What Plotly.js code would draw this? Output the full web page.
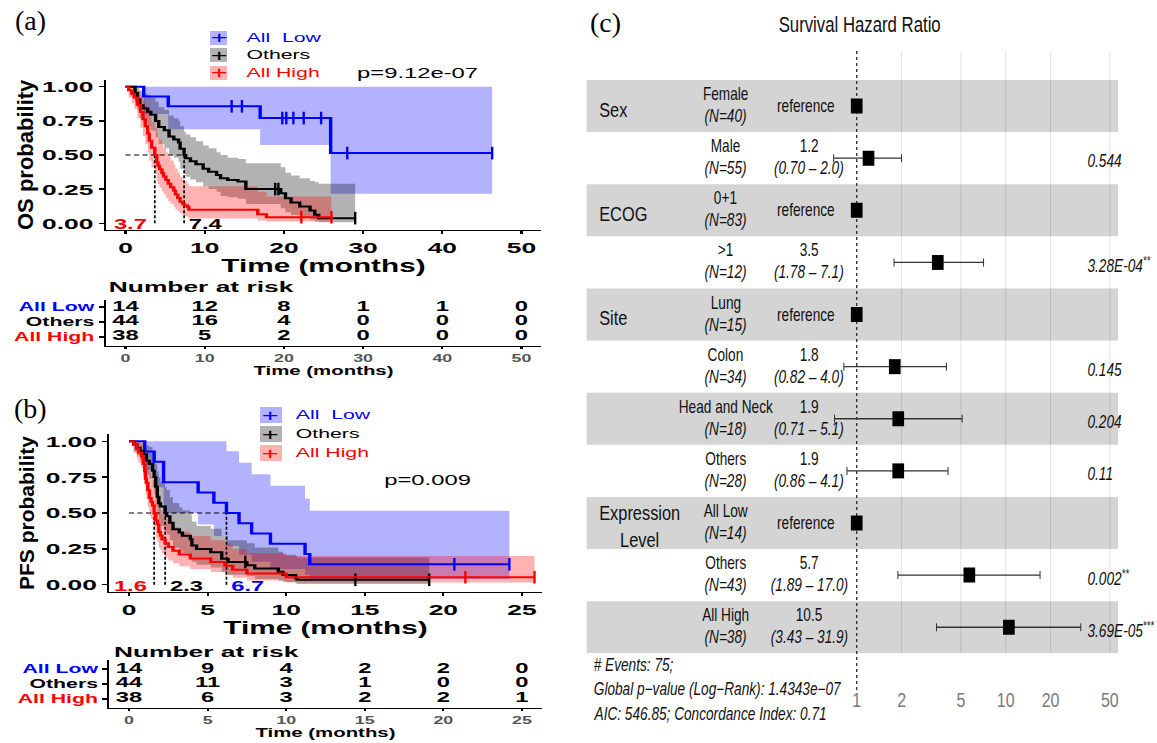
<!DOCTYPE html>
<html><head><meta charset="utf-8">
<script src="https://cdn.plot.ly/plotly-3.0.1.min.js"></script>
<style>
html,body{margin:0;padding:0;background:#fff;width:1157px;height:743px;overflow:hidden;position:relative;}
#km{position:absolute;left:0;top:0;width:340px;height:743px;transform:scaleX(1.7);transform-origin:0 0;}
#forest{position:absolute;left:575px;top:0;width:746px;height:743px;transform:scaleX(0.78);transform-origin:0 0;}
#ov{position:absolute;left:0;top:0;width:1157px;height:743px;pointer-events:none;}
</style></head><body>
<div id="km"></div><div id="forest"></div><div id="ov"></div>
<script>
// ================= DATA =================
const groupNames = ["All Low", "Others", "All High"];
const groupColors = ["#0000ff", "#000000", "#ff0000"];
const bandColors = ["rgba(0,0,255,0.3)", "rgba(0,0,0,0.3)", "rgba(255,0,0,0.3)"];

// ---- (a) OS Kaplan-Meier ----
const osLowT  = [0, 2.3, 5.4, 17.0, 25.9];
const osLowS  = [1, 0.929, 0.857, 0.771, 0.514];
const osLowUp = [1, 1, 1, 1, 1];
const osLowLo = [1, 0.80, 0.688, 0.573, 0.215];
const osLowEnd = 46.3;
const osLowCens = [13.4, 14.7, 19.8, 20.3, 21.2, 22.5, 24.7, 28.0, 46.3];

const osOthT  = [0, 1.2, 1.5, 1.8, 2.2, 2.8, 3.2, 3.8, 4.2, 4.9, 5.5, 6.1, 6.7, 6.9, 7.4, 7.6, 8.2, 8.9, 9.8, 10.5, 11.5, 12.0, 12.9, 14.2, 15.2, 19.6, 20.2, 20.9, 22.0, 23.3, 23.9, 24.4];
const osOthS  = [1, 0.955, 0.909, 0.864, 0.841, 0.818, 0.795, 0.75, 0.705, 0.682, 0.636, 0.614, 0.591, 0.545, 0.50, 0.477, 0.455, 0.432, 0.40, 0.378, 0.354, 0.33, 0.317, 0.305, 0.25, 0.22, 0.183, 0.151, 0.122, 0.093, 0.061, 0.037];
const osOthUp = [1, 1.0, 0.99, 0.97, 0.95, 0.94, 0.92, 0.89, 0.85, 0.83, 0.79, 0.77, 0.75, 0.71, 0.67, 0.65, 0.63, 0.60, 0.57, 0.55, 0.52, 0.50, 0.48, 0.47, 0.44, 0.41, 0.37, 0.35, 0.33, 0.31, 0.30, 0.29];
const osOthLo = [1, 0.89, 0.83, 0.77, 0.74, 0.71, 0.68, 0.63, 0.58, 0.55, 0.50, 0.48, 0.45, 0.40, 0.36, 0.34, 0.32, 0.30, 0.27, 0.25, 0.23, 0.20, 0.19, 0.18, 0.14, 0.11, 0.08, 0.06, 0.04, 0.025, 0.012, 0.006];
const osOthEnd = 29.0;
const osOthCens = [18.9, 19.3, 29.0];

const osHighT  = [0, 0.4, 0.8, 1.1, 1.5, 1.9, 2.2, 2.5, 2.8, 3.0, 3.3, 3.7, 3.95, 4.1, 4.3, 4.6, 4.8, 5.1, 5.4, 5.7, 6.1, 6.3, 6.6, 6.9, 7.2, 7.4, 7.8, 8.0, 16.7, 17.8];
const osHighS  = [1, 0.974, 0.947, 0.921, 0.868, 0.816, 0.763, 0.711, 0.658, 0.605, 0.553, 0.5, 0.447, 0.421, 0.395, 0.368, 0.342, 0.316, 0.289, 0.263, 0.237, 0.211, 0.184, 0.158, 0.145, 0.132, 0.118, 0.099, 0.066, 0.044];
const osHighUp = [1, 1, 1, 0.99, 0.97, 0.94, 0.90, 0.86, 0.82, 0.78, 0.74, 0.70, 0.66, 0.63, 0.61, 0.58, 0.55, 0.52, 0.49, 0.46, 0.43, 0.40, 0.37, 0.34, 0.32, 0.31, 0.29, 0.27, 0.23, 0.195];
const osHighLo = [1, 0.92, 0.88, 0.84, 0.77, 0.70, 0.64, 0.58, 0.52, 0.46, 0.41, 0.36, 0.31, 0.285, 0.26, 0.235, 0.21, 0.185, 0.16, 0.14, 0.12, 0.10, 0.085, 0.07, 0.06, 0.05, 0.045, 0.035, 0.02, 0.012];
const osHighEnd = 26.0;
const osHighCens = [22.2, 26.0];

const osMedianX = [7.4, 3.7];
const osMedianLabel = ["7.4", "3.7"];
const osMedianColor = ["#000000", "#ff0000"];
const osMedianSide = ["left", "right"];
const osPValue = "p=9.12e-07";

// ---- (b) PFS Kaplan-Meier ----
const pfsLowT  = [0, 1.0, 1.6, 2.2, 4.4, 5.4, 6.2, 7.0, 7.8, 9.0, 11.2, 11.5];
const pfsLowS  = [1, 0.929, 0.857, 0.714, 0.643, 0.571, 0.5, 0.429, 0.357, 0.286, 0.214, 0.143];
const pfsLowUp = [1, 1, 1, 1, 1, 1, 0.93, 0.85, 0.77, 0.69, 0.60, 0.515];
const pfsLowLo = [1, 0.80, 0.68, 0.50, 0.42, 0.34, 0.27, 0.21, 0.16, 0.11, 0.07, 0.04];
const pfsLowEnd = 24.2;
const pfsLowCens = [20.7, 24.2];

const pfsOthT  = [0, 0.3, 0.5, 0.7, 0.9, 1.1, 1.3, 1.5, 1.6, 1.7, 1.8, 1.9, 2.0, 2.3, 2.4, 2.6, 2.8, 3.2, 3.4, 3.9, 4.0, 4.3, 5.2, 5.9, 6.3, 7.5, 8.0, 9.5, 9.8, 10.6, 10.7];
const pfsOthS  = [1, 0.977, 0.955, 0.932, 0.909, 0.864, 0.841, 0.795, 0.75, 0.682, 0.614, 0.568, 0.545, 0.50, 0.477, 0.432, 0.386, 0.364, 0.341, 0.318, 0.273, 0.25, 0.227, 0.182, 0.159, 0.136, 0.114, 0.091, 0.068, 0.045, 0.035];
const pfsOthUp = [1, 1, 1, 1, 0.99, 0.97, 0.96, 0.93, 0.90, 0.84, 0.79, 0.75, 0.72, 0.68, 0.66, 0.61, 0.57, 0.54, 0.52, 0.49, 0.44, 0.41, 0.39, 0.34, 0.31, 0.29, 0.26, 0.23, 0.21, 0.20, 0.19];
const pfsOthLo = [1, 0.93, 0.90, 0.87, 0.83, 0.77, 0.74, 0.68, 0.63, 0.55, 0.48, 0.43, 0.41, 0.37, 0.35, 0.31, 0.26, 0.24, 0.22, 0.20, 0.16, 0.14, 0.12, 0.09, 0.07, 0.06, 0.04, 0.03, 0.02, 0.01, 0.005];
const pfsOthEnd = 19.1;
const pfsOthCens = [7.4, 14.4, 19.1];

const pfsHighT  = [0, 0.3, 0.5, 0.6, 0.8, 0.9, 1.0, 1.05, 1.1, 1.2, 1.3, 1.4, 1.5, 1.6, 1.7, 1.8, 1.9, 2.0, 2.1, 2.3, 2.5, 2.8, 3.2, 3.9, 5.2, 6.1, 6.6, 7.5, 10.0];
const pfsHighS  = [1, 0.974, 0.947, 0.921, 0.895, 0.842, 0.789, 0.737, 0.711, 0.658, 0.605, 0.579, 0.553, 0.5, 0.447, 0.421, 0.368, 0.342, 0.316, 0.289, 0.263, 0.237, 0.211, 0.184, 0.158, 0.132, 0.105, 0.079, 0.053];
const pfsHighUp = [1, 1, 1, 0.99, 0.98, 0.95, 0.92, 0.88, 0.86, 0.82, 0.78, 0.75, 0.73, 0.68, 0.63, 0.60, 0.55, 0.52, 0.49, 0.46, 0.43, 0.40, 0.37, 0.34, 0.31, 0.28, 0.25, 0.22, 0.20];
const pfsHighLo = [1, 0.92, 0.88, 0.85, 0.81, 0.75, 0.69, 0.63, 0.60, 0.54, 0.48, 0.46, 0.43, 0.38, 0.33, 0.30, 0.26, 0.24, 0.22, 0.19, 0.17, 0.15, 0.13, 0.11, 0.09, 0.07, 0.05, 0.03, 0.016];
const pfsHighEnd = 25.8;
const pfsHighCens = [21.4, 25.8];

const pfsMedianX = [6.2, 2.3, 1.6];
const pfsMedianLabel = ["6.7", "2.3", "1.6"];
const pfsMedianColor = ["#0000ff", "#000000", "#ff0000"];
const pfsMedianSide = ["left", "left", "right"];
const pfsPValue = "p=0.009";

// ---- Number at risk ----
const riskTimesOS = [0, 10, 20, 30, 40, 50];
const riskOSLow = [14, 12, 8, 1, 1, 0];
const riskOSOthers = [44, 16, 4, 0, 0, 0];
const riskOSHigh = [38, 5, 2, 0, 0, 0];
const riskTimesPFS = [0, 5, 10, 15, 20, 25];
const riskPFSLow = [14, 9, 4, 2, 2, 0];
const riskPFSOthers = [44, 11, 3, 1, 0, 0];
const riskPFSHigh = [38, 6, 3, 2, 2, 1];

// ---- (c) Forest plot ----
const fGroup = ["Sex", "", "ECOG", "", "Site", "", "", "", "Expression<br>Level", "", ""];
const fLevel = ["Female", "Male", "0+1", ">1", "Lung", "Colon", "Head and Neck", "Others", "All Low", "Others", "All High"];
const fN = [40, 55, 83, 12, 15, 34, 18, 28, 14, 43, 38];
const fHRtxt = ["", "1.2", "", "3.5", "", "1.8", "1.9", "1.9", "", "5.7", "10.5"];
const fLoTxt = ["", "0.70", "", "1.78", "", "0.82", "0.71", "0.86", "", "1.89", "3.43"];
const fHiTxt = ["", "2.0", "", "7.1", "", "4.0", "5.1", "4.1", "", "17.0", "31.9"];
const fP = ["", "0.544", "", "3.28E-04", "", "0.145", "0.204", "0.11", "", "0.002", "3.69E-05"];
const fStars = ["", "", "", "**", "", "", "", "", "", "**", "***"];
const forestTicks = [1, 2, 5, 10, 20, 50];
const forestNotes = ["# Events: 75;", "Global p\u2212value (Log\u2212Rank): 1.4343e\u221207", "AIC: 546.85; Concordance Index: 0.71"];

// ================= HELPERS =================
const KM_FONT = "Liberation Sans, Arial, Helvetica, sans-serif";
const H = 743;
const STRETCH = 1.7, KMW = 340;
const kx = x => x / STRETCH / KMW;     // reference px -> paper fraction (km div)
const py = y => 1 - y / H;
const FW = 746, FSC = 0.78, FL = 575;
const fx = x => (x - FL) / FSC / FW;   // reference px -> paper fraction (forest div)

function stepAt(T, S, t) { let v = S[0]; for (let i = 0; i < T.length; i++) if (T[i] <= t) v = S[i]; return v; }
const ext = a => a.concat([a[a.length - 1]]);

function kmTraces(groups, xa, ya) {
  const bands = [], curves = [];
  groups.forEach((g, k) => {
    const x = g.T.concat([g.end]);
    bands.push({type: "scatter", x: x, y: ext(g.lo), xaxis: xa, yaxis: ya, mode: "lines",
      line: {width: 0, shape: "hv"}, hoverinfo: "skip"});
    bands.push({type: "scatter", x: x, y: ext(g.up), xaxis: xa, yaxis: ya, mode: "lines",
      line: {width: 0, shape: "hv"}, fill: "tonexty", fillcolor: bandColors[k], hoverinfo: "skip"});
    curves.push({type: "scatter", x: x, y: ext(g.S), xaxis: xa, yaxis: ya, mode: "lines", name: groupNames[k],
      line: {color: groupColors[k], width: 2, shape: "hv"}});
    curves.push({type: "scatter", x: g.cens, y: g.cens.map(c => stepAt(g.T, g.S, c)), xaxis: xa, yaxis: ya,
      mode: "markers", marker: {symbol: "line-ns", size: 9, color: groupColors[k], line: {color: groupColors[k], width: 1.4}},
      hoverinfo: "skip", cliponaxis: false});
  });
  return {bands, curves};
}
function medianTrace(meds, xa, ya) {
  const x = [0, Math.max(...meds), null], y = [0.5, 0.5, null];
  meds.forEach(m => { x.push(m, m, null); y.push(0, 0.5, null); });
  return {type: "scatter", x: x, y: y, xaxis: xa, yaxis: ya, mode: "lines",
    line: {color: "#000", width: 1, dash: "3px,2px"}, hoverinfo: "skip"};
}
function riskTrace(times, rows, xa, ya) {
  const x = [], y = [], text = [];
  rows.forEach((r, k) => r.forEach((v, i) => { x.push(times[i]); y.push(2 - k); text.push(String(v)); }));
  return {type: "scatter", mode: "text", x: x, y: y, text: text, xaxis: xa, yaxis: ya, cliponaxis: false,
    textfont: {family: KM_FONT, size: 14, weight: "bold", color: "#000"}, hoverinfo: "skip"};
}

// ================= KM FIGURE =================
const os = kmTraces([
  {T: osLowT, S: osLowS, up: osLowUp, lo: osLowLo, end: osLowEnd, cens: osLowCens},
  {T: osOthT, S: osOthS, up: osOthUp, lo: osOthLo, end: osOthEnd, cens: osOthCens},
  {T: osHighT, S: osHighS, up: osHighUp, lo: osHighLo, end: osHighEnd, cens: osHighCens}], "x", "y");
const pfs = kmTraces([
  {T: pfsLowT, S: pfsLowS, up: pfsLowUp, lo: pfsLowLo, end: pfsLowEnd, cens: pfsLowCens},
  {T: pfsOthT, S: pfsOthS, up: pfsOthUp, lo: pfsOthLo, end: pfsOthEnd, cens: pfsOthCens},
  {T: pfsHighT, S: pfsHighS, up: pfsHighUp, lo: pfsHighLo, end: pfsHighEnd, cens: pfsHighCens}], "x3", "y3");

const kmData = [].concat(
  os.bands, [medianTrace(osMedianX, "x", "y")], os.curves,
  [riskTrace(riskTimesOS, [riskOSLow, riskOSOthers, riskOSHigh], "x2", "y2")],
  pfs.bands, [medianTrace(pfsMedianX, "x3", "y3")], pfs.curves,
  [riskTrace(riskTimesPFS, [riskPFSLow, riskPFSOthers, riskPFSHigh], "x4", "y4")]
);

const axBase = {showline: true, linecolor: "#000", linewidth: 1.2, ticks: "outside", ticklen: 3, tickwidth: 1.2,
  tickcolor: "#000", showgrid: false, zeroline: false, fixedrange: true,
  tickfont: {family: KM_FONT, size: 15.5, weight: "bold", color: "#000"}};
const tblY = {...axBase, tickvals: [2, 1, 0],
  ticktext: groupNames.map((n, k) => '<span style="color:' + groupColors[k] + '">' + n + "</span>"),
  tickfont: {family: KM_FONT, size: 12.5, weight: "bold"}};
const tblX = {...axBase, ticklen: 2, tickfont: {family: KM_FONT, size: 10.5, weight: "bold", color: "#555"},
  title: {text: "Time (months)", font: {family: KM_FONT, size: 12, weight: "bold"}, standoff: 3}};
const plotXTitle = {text: "Time (months)", font: {family: KM_FONT, size: 17.5, weight: "bold"}, standoff: 2};

const kmAnn = [];
const kmShapes = [];
function addLegend(rows, rectX0, rectX1, plusX, labelX, rectH) {
  rows.forEach((ry, k) => {
    kmShapes.push({type: "rect", xref: "paper", yref: "paper", x0: kx(rectX0), x1: kx(rectX1),
      y0: py(ry + rectH / 2), y1: py(ry - rectH / 2), fillcolor: bandColors[k], line: {width: 0}});
    kmAnn.push({xref: "paper", yref: "paper", x: kx(plusX), y: py(ry), text: "+", showarrow: false,
      xanchor: "center", yanchor: "middle", font: {family: KM_FONT, size: 17, color: groupColors[k]}});
    kmAnn.push({xref: "paper", yref: "paper", x: kx(labelX), y: py(ry),
      text: k === 0 ? "All\u00a0\u00a0Low" : groupNames[k], showarrow: false,
      xanchor: "left", yanchor: "middle", font: {family: KM_FONT, size: 12.5, color: groupColors[k]}});
  });
}
addLegend([38, 55, 73], 210, 227, 218.6, 242.8, 14);
addLegend([415, 434, 453], 260, 282, 271, 293, 16);

kmAnn.push({xref: "paper", yref: "paper", x: kx(418), y: py(73), text: osPValue, showarrow: false,
  xanchor: "center", yanchor: "middle", font: {family: KM_FONT, size: 14, color: "#000"}});
kmAnn.push({xref: "paper", yref: "paper", x: kx(427), y: py(480), text: pfsPValue, showarrow: false,
  xanchor: "center", yanchor: "middle", font: {family: KM_FONT, size: 14, color: "#000"}});
kmAnn.push({xref: "paper", yref: "paper", x: kx(105), y: py(287), text: "Number at risk", showarrow: false,
  xanchor: "left", yanchor: "middle", font: {family: KM_FONT, size: 15.5, weight: "bold", color: "#000"}});
kmAnn.push({xref: "paper", yref: "paper", x: kx(110), y: py(651), text: "Number at risk", showarrow: false,
  xanchor: "left", yanchor: "middle", font: {family: KM_FONT, size: 15.5, weight: "bold", color: "#000"}});
function medianLabels(xs, labels, colors, sides, xr, yr) {
  xs.forEach((m, i) => kmAnn.push({xref: xr, yref: yr, x: m, y: 0, text: labels[i], showarrow: false,
    xanchor: sides[i], yanchor: "middle", xshift: sides[i] === "left" ? 1 : -2, yshift: -1,
    font: {family: KM_FONT, size: 14, weight: "bold", color: colors[i]}}));
}
medianLabels(osMedianX, osMedianLabel, osMedianColor, osMedianSide, "x", "y");
medianLabels(pfsMedianX, pfsMedianLabel, pfsMedianColor, pfsMedianSide, "x3", "y3");

const kmLayout = {
  width: KMW, height: H, margin: {l: 0, r: 0, t: 0, b: 0}, showlegend: false,
  paper_bgcolor: "rgba(0,0,0,0)", plot_bgcolor: "rgba(0,0,0,0)",
  font: {family: KM_FONT, color: "#000"},
  xaxis: {...axBase, domain: [kx(105.7), kx(541.3)], anchor: "y", range: [-2.5, 52.5], tick0: 0, dtick: 10, title: plotXTitle},
  yaxis: {...axBase, domain: [py(230), py(80)], anchor: "x", range: [-0.05, 1.05], tick0: 0, dtick: 0.25, tickformat: ".2f"},
  xaxis2: {...tblX, domain: [kx(105.7), kx(541.3)], anchor: "y2", range: [-2.5, 52.5], tickvals: riskTimesOS},
  yaxis2: {...tblY, domain: [py(346), py(300)], anchor: "x2", range: [-0.6, 2.467]},
  xaxis3: {...axBase, domain: [kx(109.35), kx(541.6)], anchor: "y3", range: [-1.25, 26.25], tick0: 0, dtick: 5, title: plotXTitle},
  yaxis3: {...axBase, domain: [py(592), py(434)], anchor: "x3", range: [-0.05, 1.05], tick0: 0, dtick: 0.25, tickformat: ".2f"},
  xaxis4: {...tblX, domain: [kx(109.35), kx(541.6)], anchor: "y4", range: [-1.25, 26.25], tickvals: riskTimesPFS},
  yaxis4: {...tblY, domain: [py(708), py(660)], anchor: "x4", range: [-0.6, 2.6]},
  annotations: kmAnn, shapes: kmShapes
};
Plotly.newPlot("km", kmData, kmLayout, {staticPlot: true, displayModeBar: false});

// ================= FOREST FIGURE =================
const F_FONT = "Liberation Sans, Arial, Helvetica, sans-serif";
const rowsIdx = fLevel.map((_, i) => i);
const hrVals = fHRtxt.map(s => s === "" ? 1 : parseFloat(s));
const ciIdx = rowsIdx.filter(i => fLoTxt[i] !== "");
const fData = [
  {type: "scatter", mode: "markers", x: ciIdx.map(i => hrVals[i]), y: ciIdx,
    marker: {size: 1, color: "rgba(0,0,0,0)"}, hoverinfo: "skip",
    error_x: {type: "data", symmetric: false, array: ciIdx.map(i => parseFloat(fHiTxt[i]) - hrVals[i]),
      arrayminus: ciIdx.map(i => hrVals[i] - parseFloat(fLoTxt[i])), color: "#333", thickness: 1.3, width: 4}},
  {type: "scatter", mode: "markers", x: hrVals, y: rowsIdx,
    marker: {symbol: "square", size: 15, color: "#000"}, hoverinfo: "skip"}
];
const fShapes = [];
rowsIdx.filter(i => i % 2 === 0).forEach(i => fShapes.push({type: "rect", xref: "paper", yref: "y",
  x0: fx(586.6), x1: fx(1118), y0: i - 0.5, y1: i + 0.5, fillcolor: "#d4d4d4", line: {width: 0}, layer: "below"}));
forestTicks.filter(v => v !== 1).forEach(v => fShapes.push({type: "line", xref: "x", yref: "paper",
  x0: v, x1: v, y0: py(653.3), y1: py(51.7), line: {color: "rgba(0,0,0,0.12)", width: 1}, layer: "below"}));
fShapes.push({type: "line", xref: "x", yref: "paper", x0: 1, x1: 1, y0: py(690), y1: py(50),
  line: {color: "#222", width: 1.6, dash: "dot"}, layer: "below"});

const fAnn = [];
const txt = (x, y, text, opts) => Object.assign({xref: "paper", yref: "y", x: x, y: y, text: text, showarrow: false,
  yanchor: "middle"}, opts);
rowsIdx.forEach(i => {
  if (fGroup[i]) fAnn.push(txt(fx(597.7), i, fGroup[i], {xanchor: "left", yshift: -3,
    font: {family: F_FONT, size: 21, color: "#111"}}));
  fAnn.push(txt(fx(725.6), i, fLevel[i], {xanchor: "center", yshift: 12, font: {family: F_FONT, size: 17.5, color: "#111"}}));
  fAnn.push(txt(fx(725.6), i, "(N=" + fN[i] + ")", {xanchor: "center", yshift: -10,
    font: {family: F_FONT, size: 17.5, style: "italic", color: "#111"}}));
  if (fHRtxt[i] === "") {
    fAnn.push(txt(fx(806), i, "reference", {xanchor: "center", font: {family: F_FONT, size: 17.5, color: "#111"}}));
  } else {
    fAnn.push(txt(fx(809), i, fHRtxt[i], {xanchor: "center", yshift: 12, font: {family: F_FONT, size: 17.5, color: "#111"}}));
    fAnn.push(txt(fx(809), i, "(" + fLoTxt[i] + " \u2013 " + fHiTxt[i] + ")", {xanchor: "center", yshift: -10,
      font: {family: F_FONT, size: 17.5, style: "italic", color: "#111"}}));
  }
  if (fP[i]) fAnn.push(txt(fx(1086), i, fP[i] + (fStars[i] ? "<sup>" + fStars[i] + "</sup>" : ""),
    {xanchor: "left", yshift: -3, font: {family: F_FONT, size: 17.5, style: "italic", color: "#111"}}));
});
fAnn.push({xref: "paper", yref: "paper", x: fx(860), y: py(25), text: "Survival Hazard Ratio", showarrow: false,
  xanchor: "center", yanchor: "middle", font: {family: F_FONT, size: 21.5, color: "#111"}});
[665, 689, 714].forEach((yy, k) => fAnn.push({xref: "paper", yref: "paper", x: fx(592), y: py(yy), text: forestNotes[k],
  showarrow: false, xanchor: "left", yanchor: "middle", font: {family: F_FONT, size: 17.5, style: "italic", color: "#111"}}));

const fLayout = {
  width: FW, height: H, margin: {l: 0, r: 0, t: 0, b: 0}, showlegend: false,
  paper_bgcolor: "rgba(0,0,0,0)", plot_bgcolor: "rgba(0,0,0,0)",
  xaxis: {type: "log", domain: [fx(586.6), fx(1118)], range: [-1.8129, 1.7536], anchor: "free", position: py(686),
    tickvals: forestTicks, ticktext: forestTicks.map(String), showline: false, ticks: "", showgrid: false,
    zeroline: false, tickfont: {family: F_FONT, size: 20.5, color: "#7a7a7a"}},
  yaxis: {domain: [py(653.3), py(80)], range: [10.5, -0.5], visible: false, anchor: "x"},
  shapes: fShapes, annotations: fAnn
};
Plotly.newPlot("forest", fData, fLayout, {staticPlot: true, displayModeBar: false});

// ================= OVERLAY (panel letters, rotated axis titles) =================
const ovAnn = [
  {x: 30, y: 20, text: "(a)", font: {family: "Liberation Serif, Times New Roman, serif", size: 28, color: "#000"}},
  {x: 30, y: 408, text: "(b)", font: {family: "Liberation Serif, Times New Roman, serif", size: 28, color: "#000"}},
  {x: 605, y: 22, text: "(c)", font: {family: "Liberation Serif, Times New Roman, serif", size: 28, color: "#000"}},
  {x: 25, y: 155, text: "OS probability", textangle: -90, font: {family: KM_FONT, size: 22, weight: "bold", color: "#000"}},
  {x: 26, y: 513, text: "PFS probability", textangle: -90, font: {family: KM_FONT, size: 21, weight: "bold", color: "#000"}}
].map(a => Object.assign({xref: "paper", yref: "paper", showarrow: false, xanchor: "center", yanchor: "middle"},
  a, {x: a.x / 1157, y: py(a.y)}));
Plotly.newPlot("ov", [], {width: 1157, height: H, margin: {l: 0, r: 0, t: 0, b: 0},
  paper_bgcolor: "rgba(0,0,0,0)", plot_bgcolor: "rgba(0,0,0,0)",
  xaxis: {visible: false}, yaxis: {visible: false}, annotations: ovAnn}, {staticPlot: true, displayModeBar: false});
</script></body></html>
